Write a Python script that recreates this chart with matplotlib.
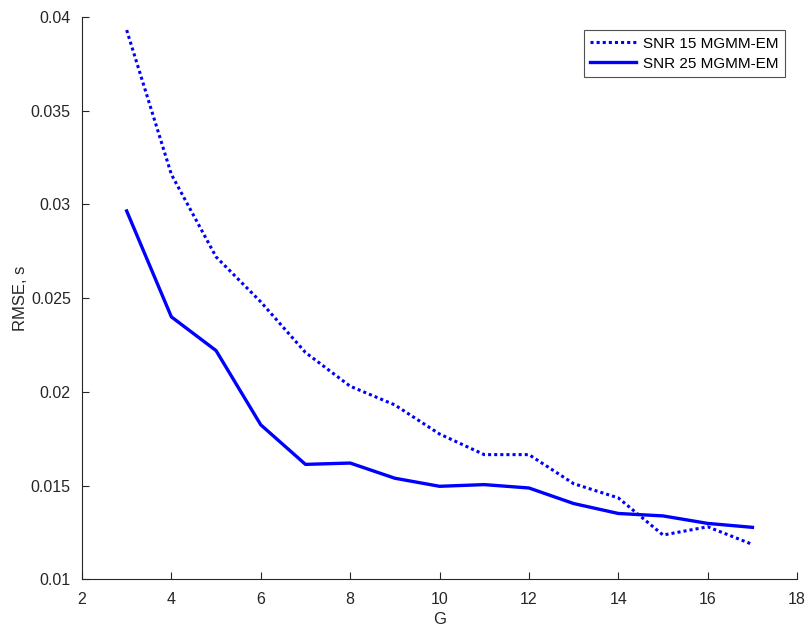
import numpy as np
import matplotlib.pyplot as plt

plt.rcParams['font.family'] = ['Liberation Sans', 'DejaVu Sans']

# datos
G = [3, 4, 5, 6, 7, 8, 9, 10, 11, 12, 13, 14, 15, 16, 17]
rmse_snr15 = [0.0393, 0.0316, 0.0272, 0.0248, 0.0221, 0.0203, 0.0193, 0.01775,
              0.01665, 0.01665, 0.0151, 0.01434, 0.01236, 0.0128, 0.01186]
rmse_snr25 = [0.02965, 0.0240, 0.0222, 0.01824, 0.01613, 0.0162, 0.01539, 0.01496,
              0.01505, 0.01487, 0.01404, 0.01351, 0.01338, 0.01298, 0.01277]

fig = plt.figure(figsize=(8.06, 6.28), dpi=100)
ax = fig.add_axes([0.1017, 0.0776, 0.8873, 0.8954])

ax.plot(G, rmse_snr15, color='#0000ff', linewidth=2.2, linestyle=(0, (1, 1)),
        label='SNR 15 MGMM-EM')
ax.plot(G, rmse_snr25, color='#0000ff', linewidth=2.4, label='SNR 25 MGMM-EM')

ax.set_xlim(2, 18)
ax.set_ylim(0.01, 0.04)
ax.set_xticks(np.arange(2, 19, 2))
ax.set_yticks([0.01, 0.015, 0.02, 0.025, 0.03, 0.035, 0.04])
ax.set_yticklabels(['0.01', '0.015', '0.02', '0.025', '0.03', '0.035', '0.04'])

for s in ['top', 'right']:
    ax.spines[s].set_visible(False)
for s in ['left', 'bottom']:
    ax.spines[s].set_color('#262626')
    ax.spines[s].set_linewidth(0.8)
ax.tick_params(direction='in', length=5, colors='#262626', labelsize=11.5)
ax.tick_params(axis='y', pad=8)
ax.tick_params(axis='x', pad=9)

ax.set_xlabel('G', fontsize=12, color='#262626', labelpad=4)
ax.set_ylabel('RMSE, s', fontsize=12, color='#262626', labelpad=2)

leg = ax.legend(loc='upper right', bbox_to_anchor=(0.9935, 0.9895), fontsize=11,
                fancybox=False, handlelength=3, borderpad=0.4, labelspacing=0.4,
                handletextpad=0.5)
leg.get_frame().set_edgecolor('#262626')
leg.get_frame().set_linewidth(0.8)

plt.savefig('out.png', dpi=100)
